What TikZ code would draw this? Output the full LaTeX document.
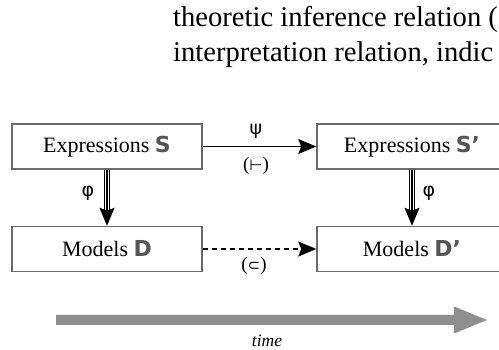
\documentclass[tikz,border=0pt]{standalone}
\usepackage{fontspec}
\setmainfont{Liberation Serif}
\newfontfamily\symf{DejaVu Sans}
\usetikzlibrary{arrows.meta}
\definecolor{boxgray}{HTML}{6A6A6A}
\definecolor{lettergray}{HTML}{555555}
\definecolor{timegray}{HTML}{8E8E8E}
\newcommand{\heavyletter}[1]{{\symf\bfseries\color{lettergray}#1}}
\tikzset{
  box/.style={draw=boxgray, line width=1.5pt, minimum width=190pt, minimum height=45pt,
    inner sep=0pt, font=\fontsize{22}{26}\selectfont},
  toptext/.style={anchor=base west, inner sep=0pt, font=\fontsize{28.6}{34}\selectfont},
  lbl/.style={inner sep=0pt, font=\fontsize{19}{21}\selectfont},
  glbl/.style={inner sep=0pt, font=\symf\fontsize{19}{21}\selectfont},
  conn/.style={line width=1.5pt, -{Stealth[length=18pt,width=15pt,inset=3pt]}},
  dconn/.style={conn, dash pattern=on 5pt off 4pt},
  dbl/.style={line width=1.3pt}
}
\begin{document}
\begin{tikzpicture}[x=1pt,y=-1pt]
\useasboundingbox (0,0) rectangle (499,350);
\begin{scope}
\clip (0,0) rectangle (499,350);
\node[toptext] (t1) at (173,27) {theoretic inference relation (};
\node[toptext] (t2) at (173,62) {interpretation relation, indic};

\node[box] (s)  at (107,146.5) {Expressions \heavyletter{S}};
\node[box] (s2) at (412,146.5) {Expressions \heavyletter{S’}};
\node[box] (d)  at (107,249) {Models \heavyletter{D}};
\node[box] (d2) at (412,249) {Models \heavyletter{D’}};

\draw[conn] (s.east) -- (s2.west);
\draw[dconn] (d.east) -- (d2.west);
\node[glbl] (psi) at (256,131) {ψ};
\node[lbl] (vd) at (256,166) {({\symf\fontsize{15}{17}\selectfont ⊢})};
\node[lbl] (sub) at (254,266) {({\symf\fontsize{15}{17}\selectfont ⊂})};

% double arrows
\draw[dbl] ([xshift=-2.6pt]s.south) -- ([xshift=-2.6pt,yshift=-40pt]s.south);
\draw[dbl] ([xshift=2.6pt]s.south) -- ([xshift=2.6pt,yshift=-40pt]s.south);
\draw[conn] (s.south) -- (d.north);
\draw[dbl] ([xshift=-2.6pt]s2.south) -- ([xshift=-2.6pt,yshift=-40pt]s2.south);
\draw[dbl] ([xshift=2.6pt]s2.south) -- ([xshift=2.6pt,yshift=-40pt]s2.south);
\draw[conn] (s2.south) -- (d2.north);
\node[glbl] (phi1) at (88,193) {φ};
\node[glbl] (phi2) at (429,193) {φ};

% time arrow
\fill[timegray] (56,315) -- (454,315) -- (454,306.5) -- (487,320) -- (454,333.5) -- (454,325) -- (56,325) -- cycle;
\node[inner sep=0pt, font=\itshape\fontsize{17.5}{20}\selectfont] (time) at (267,341) {time};
\end{scope}
\end{tikzpicture}
\end{document}
